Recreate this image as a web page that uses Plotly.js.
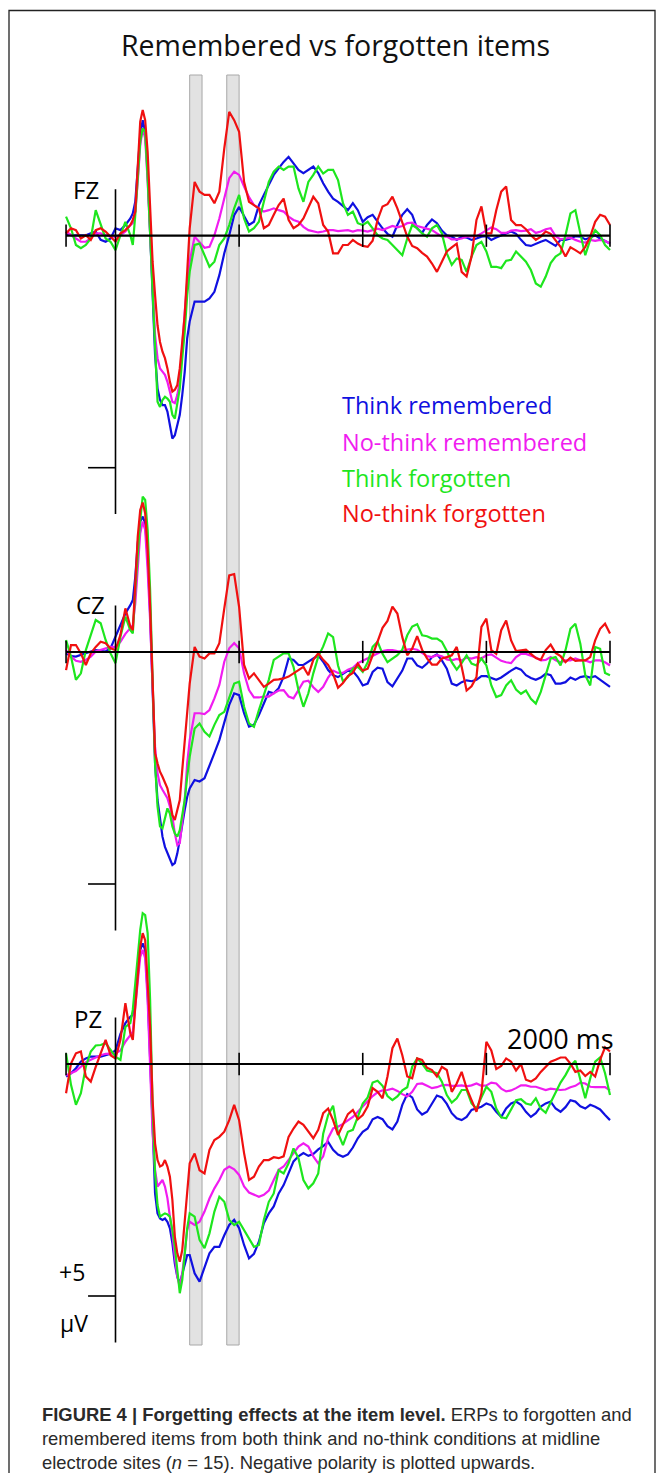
<!DOCTYPE html>
<html>
<head>
<meta charset="utf-8">
<script src="https://cdn.plot.ly/plotly-3.0.1.min.js"></script>
<style>html,body{margin:0;padding:0;background:#fff;}#chart{width:657px;height:1473px;}</style>
</head>
<body>
<div id="chart"></div>
<script>
// ---------------- DATA ----------------
const timeMs = [-200,-180,-160,-140,-120,-100,-80,-60,-40,-20,0,20,40,60,
70,80,90,100,110,120,130,140,150,160,170,180,190,200,210,220,230,240,250,260,270,280,290,300,
320,340,360,380,400,420,440,460,480,500,520,540,560,580,600,620,640,660,680,700,720,740,760,780,800,820,840,860,
880,900,920,940,960,980,1000,1020,1040,1060,1080,1100,1120,1140,1160,1180,1200,1220,1240,1260,1280,1300,1320,1340,1360,1380,1400,1420,1440,1460,1480,1500,1520,1540,1560,1580,1600,1620,1640,1660,1680,1700,1720,1740,1760,1780,1800,1820,1840,1860,1880,1900,1920,1940,1960,1980,2000];

const seriesNames = ["Think remembered","No-think remembered","Think forgotten","No-think forgotten"];
const electrodes = ["FZ","CZ","PZ"];

// FZ (µV)
const fzThinkRemembered = [-0.05,-0.01,-0.01,-0.01,-0.01,-0.05,-0.09,0.09,0.13,0.06,-0.16,-0.12,-0.23,-0.37,
-0.48,-0.73,-1.45,-2.17,-2.49,-2.24,-1.38,-0.16,1.42,2.57,3.29,3.54,3.65,3.65,3.79,4.08,4.37,4.30,4.08,3.86,3.43,2.93,2.21,1.85,
1.42,1.42,1.42,1.35,1.21,0.85,0.38,-0.01,-0.44,-0.62,-0.41,-0.23,-0.30,-0.66,-0.88,-1.09,-1.31,-1.45,-1.59,-1.70,-1.56,-1.42,-1.35,-1.42,-1.49,-1.35,-1.13,-0.95,
-0.80,-0.73,-0.63,-0.55,-0.70,-0.55,-0.30,-0.40,-0.45,-0.30,-0.16,-0.04,0.02,-0.23,-0.45,-0.57,-0.45,-0.16,-0.06,-0.23,-0.35,-0.27,-0.11,-0.01,0.02,0.09,0.02,0.04,0.09,0.06,0.02,0.01,0.09,0.04,-0.01,-0.05,-0.09,-0.04,0.09,0.20,0.22,0.17,0.13,0.09,0.15,0.22,0.09,0.09,0.06,0.01,0.02,0.08,0.04,-0.01,0.06,0.11,0.17];
const fzNoThinkRemembered = [-0.09,-0.01,0.06,0.13,0.13,0.06,-0.05,-0.05,-0.01,0.02,0.02,-0.01,-0.09,-0.23,
-0.27,-0.52,-1.17,-1.95,-2.31,-2.10,-1.17,-0.01,1.28,2.14,2.64,2.86,2.93,3.00,3.15,3.36,3.58,3.61,3.43,3.15,2.30,1.64,0.99,0.56,
0.02,0.13,0.26,0.24,-0.01,-0.37,-0.80,-1.24,-1.38,-1.31,-1.06,-0.83,-0.66,-0.59,-0.52,-0.55,-0.59,-0.55,-0.52,-0.41,-0.34,-0.30,-0.19,-0.12,-0.09,-0.07,-0.09,-0.12,
-0.12,-0.10,-0.11,-0.12,-0.09,-0.12,-0.11,-0.09,-0.12,-0.15,-0.12,-0.16,-0.21,-0.18,-0.21,-0.27,-0.28,-0.21,-0.18,-0.15,-0.12,-0.05,0.02,0.02,0.08,0.08,0.06,0.02,0.02,0.01,-0.05,-0.12,-0.18,-0.14,-0.06,-0.06,-0.11,-0.12,-0.10,-0.11,-0.14,-0.06,-0.09,-0.14,-0.16,0.01,0.08,0.06,0.04,0.09,0.13,0.15,0.09,0.11,0.09,0.11,0.17];
const fzThinkForgotten = [-0.41,-0.16,0.20,0.27,0.20,0.06,-0.55,-0.23,0.06,0.13,0.31,-0.01,-0.30,-0.01,
0.20,-0.45,-1.31,-2.03,-2.31,-2.24,-1.24,-0.01,1.42,2.72,3.58,3.69,3.54,3.47,3.51,3.58,3.86,3.94,3.65,3.29,2.64,2.07,1.28,0.78,
0.20,0.17,0.42,0.67,0.56,0.20,0.06,-0.23,-0.59,-0.88,-0.37,-0.09,-0.16,-0.30,-0.73,-1.16,-1.38,-1.49,-1.42,-1.49,-1.49,-1.02,-0.73,-1.16,-1.31,-1.49,-1.34,-1.42,
-1.42,-1.20,-0.70,-0.45,-0.52,-0.27,-0.23,-0.30,-0.16,-0.01,0.06,0.09,0.20,0.31,0.42,0.06,-0.23,-0.16,-0.05,0.02,-0.16,-0.23,-0.05,0.38,0.63,0.49,0.52,0.78,0.45,0.20,0.13,0.34,0.67,0.67,0.70,0.54,0.52,0.34,0.45,0.56,0.74,1.03,1.10,0.88,0.59,0.45,0.38,-0.01,-0.48,-0.55,-0.05,0.42,0.09,-0.12,-0.01,0.20,0.31];
const fzNoThinkForgotten = [-0.05,-0.16,-0.12,0.06,-0.01,0.09,-0.12,-0.16,-0.09,0.02,0.13,-0.05,-0.12,-0.23,
-0.34,-0.52,-1.60,-2.46,-2.71,-2.49,-1.81,-0.66,0.56,1.28,1.93,2.29,2.50,2.64,2.86,3.15,3.36,3.32,3.22,2.86,2.29,1.71,0.78,-0.16,
-1.16,-0.95,-0.88,-0.88,-0.70,-0.95,-1.88,-2.67,-2.49,-2.24,-1.16,-0.73,-0.66,-0.59,-0.16,-0.23,-0.45,-0.66,-0.80,-0.34,-0.16,-0.23,-0.37,-0.62,-0.84,-0.70,-0.23,-0.09,
0.38,0.38,0.20,0.20,0.09,0.17,0.22,0.24,0.11,-0.34,-0.63,-0.68,-0.84,-0.59,-0.30,0.02,0.22,0.27,0.37,0.45,0.60,0.78,0.56,0.34,0.25,0.17,0.78,0.88,0.45,-0.34,-0.63,-0.05,-0.05,-0.55,-0.95,-1.06,-0.34,-0.23,-0.23,-0.14,-0.01,0.09,0.02,-0.09,-0.04,0.09,0.24,0.45,0.25,0.31,0.38,0.24,0.02,-0.30,-0.45,-0.41,-0.23];

// CZ (µV)
const czThinkRemembered = [0.03,0.09,0.10,0.06,0.03,-0.01,-0.04,-0.03,-0.01,-0.08,-0.33,-0.58,-0.83,-1.01,
-1.12,-1.62,-2.34,-2.81,-2.92,-2.77,-2.05,-0.83,0.75,2.40,3.19,3.55,3.98,4.20,4.34,4.48,4.59,4.55,4.34,4.05,3.69,3.40,3.12,2.94,
2.76,2.79,2.72,2.47,2.18,1.90,1.50,1.14,0.89,0.93,1.32,1.61,1.57,1.36,1.11,0.86,0.89,0.78,0.53,0.14,0.17,0.28,0.28,0.21,0.14,0.07,0.21,0.39,
0.50,0.54,0.47,0.40,0.41,0.54,0.72,0.68,0.43,0.34,0.36,0.65,0.74,0.57,0.40,0.14,0.14,0.29,0.34,0.25,0.11,0.05,0.18,0.36,0.68,0.72,0.65,0.61,0.63,0.60,0.52,0.52,0.56,0.60,0.55,0.47,0.40,0.34,0.38,0.50,0.56,0.60,0.55,0.47,0.50,0.68,0.68,0.65,0.55,0.60,0.54,0.52,0.55,0.52,0.60,0.68,0.75];
const czNoThinkRemembered = [-0.04,0.10,0.19,0.21,0.17,0.10,-0.01,-0.04,-0.08,-0.11,-0.11,-0.22,-0.39,-0.51,
-0.58,-1.05,-1.77,-2.56,-2.81,-2.63,-1.77,-0.69,0.75,2.04,2.61,2.87,2.97,3.05,3.15,3.33,3.55,3.91,4.16,4.12,3.69,3.19,2.40,1.90,
1.32,1.32,1.34,1.25,1.00,0.71,0.21,-0.08,-0.19,-0.08,0.46,0.82,0.98,0.98,0.96,0.96,0.89,0.83,0.82,0.96,1.00,0.83,0.64,0.62,0.76,0.86,0.75,0.55,
0.40,0.45,0.45,0.38,0.34,0.24,0.19,0.14,0.09,0.04,-0.02,-0.04,-0.04,-0.02,-0.01,-0.05,-0.07,-0.05,0.02,0.09,0.11,0.07,0.09,0.16,0.18,0.15,0.18,0.12,0.14,0.11,0.14,0.07,0.05,0.13,0.19,0.22,0.24,0.11,0.04,0.04,0.08,0.12,0.18,0.17,0.11,0.18,0.22,0.18,0.18,0.14,0.18,0.18,0.22,0.18,0.18,0.22,0.29];
const czThinkForgotten = [-0.26,0.10,0.60,0.46,-0.04,-0.37,-0.69,-0.62,-0.26,0.03,0.24,-0.33,-0.76,-0.47,
-0.40,-1.34,-2.13,-2.84,-3.35,-3.28,-2.63,-1.34,0.60,2.40,3.33,3.76,3.80,3.55,3.37,3.48,3.76,3.91,3.98,3.84,3.55,3.19,2.69,2.26,
1.65,1.54,1.72,1.82,1.57,1.36,1.29,1.00,0.68,0.64,1.18,1.54,1.61,1.25,0.93,0.60,0.17,0.10,0.03,0.03,0.32,0.82,1.18,0.89,0.46,0.10,-0.12,-0.40,
-0.32,0.29,0.63,0.54,0.36,0.32,0.43,0.22,-0.11,-0.22,0.04,0.22,0.14,0.07,-0.05,-0.36,-0.55,-0.60,-0.36,-0.34,-0.29,-0.29,-0.22,-0.02,0.22,0.38,0.24,0.07,0.25,0.29,0.14,0.29,0.72,0.97,0.93,0.72,0.61,0.81,0.90,0.83,1.01,1.11,0.86,0.50,0.14,0.11,0.29,-0.04,-0.50,-0.61,-0.18,0.50,0.72,-0.11,-0.07,0.45,0.50];
const czNoThinkForgotten = [0.39,-0.15,-0.15,0.03,0.28,0.03,-0.11,-0.22,-0.19,-0.08,-0.04,-0.37,-0.94,-0.55,
-0.47,-1.55,-2.49,-3.06,-3.22,-2.99,-2.20,-0.98,0.75,2.18,2.40,2.58,2.69,2.80,2.94,3.19,3.51,3.62,3.40,3.19,2.54,1.90,1.18,0.68,
-0.11,0.10,0.14,0.03,0.03,-0.19,-0.94,-1.65,-1.68,-0.97,0.28,0.57,0.46,0.60,0.75,0.68,0.60,0.59,0.57,0.53,0.45,0.39,0.32,0.50,0.17,0.03,0.17,0.28,
0.47,0.77,0.67,0.52,0.45,0.25,0.40,0.36,0.07,-0.22,-0.52,-0.67,-0.98,-0.83,-0.32,0.07,-0.07,-0.34,-0.05,0.14,0.27,0.27,0.14,0.11,0.07,-0.11,0.32,0.83,0.74,0.54,-0.54,-0.72,-0.04,0.04,-0.47,-0.68,-0.25,-0.02,-0.04,-0.05,0.04,0.13,0.17,-0.04,-0.16,0.02,0.09,0.22,0.12,0.19,0.18,0.18,0.11,-0.25,-0.50,-0.61,-0.40];

// PZ (µV)
const pzThinkRemembered = [0.27,0.20,0.09,-0.05,-0.12,-0.16,-0.16,-0.16,-0.19,-0.22,-0.29,-0.65,-0.88,-1.02,
-1.06,-1.38,-1.99,-2.46,-2.60,-2.46,-1.52,-0.30,1.28,2.79,3.22,3.33,3.36,3.33,3.40,3.54,3.86,4.30,4.59,4.73,4.51,4.30,4.12,4.12,
4.51,4.69,4.37,4.08,3.94,3.94,3.69,3.47,3.36,3.54,3.90,4.19,4.09,3.83,3.43,3.22,3.07,2.79,2.61,2.36,2.10,1.99,1.92,1.98,1.94,1.84,1.77,1.68,
1.85,1.95,2.00,1.95,1.80,1.60,1.46,1.39,1.19,1.14,1.19,1.34,1.41,1.24,0.88,0.65,0.72,0.98,1.09,1.03,0.85,0.68,0.72,0.86,1.06,1.17,1.21,1.14,0.99,0.96,0.92,0.85,0.89,1.03,1.14,0.96,0.85,0.81,0.88,1.03,1.14,1.06,0.92,0.85,0.81,0.96,1.03,0.93,0.78,0.81,0.91,0.96,0.88,0.92,0.98,1.10,1.21];
const pzNoThinkRemembered = [0.24,0.20,0.15,0.06,-0.04,-0.09,-0.14,-0.19,-0.22,-0.23,-0.23,-0.29,-0.48,-0.62,
-0.70,-1.24,-1.85,-2.31,-2.46,-2.28,-1.38,-0.09,1.49,2.28,2.64,2.57,2.50,2.64,2.89,3.29,3.65,4.15,4.58,4.80,4.51,4.08,3.58,3.40,
3.47,3.40,3.18,2.90,2.68,2.50,2.28,2.21,2.27,2.39,2.64,2.77,2.82,2.86,2.82,2.73,2.50,2.28,2.21,2.07,1.92,1.78,1.71,1.78,1.99,2.14,1.99,1.60,
1.39,1.35,1.29,1.21,1.14,1.03,0.91,0.79,0.69,0.61,0.57,0.56,0.53,0.58,0.65,0.70,0.60,0.43,0.42,0.47,0.52,0.50,0.46,0.45,0.47,0.47,0.46,0.48,0.46,0.42,0.47,0.46,0.40,0.42,0.53,0.59,0.57,0.52,0.46,0.46,0.49,0.49,0.52,0.56,0.53,0.55,0.56,0.55,0.50,0.47,0.40,0.42,0.49,0.50,0.50,0.50,0.57];
const pzThinkForgotten = [-0.23,0.45,0.88,0.63,0.06,-0.27,-0.40,-0.41,-0.45,-0.30,-0.16,-0.09,-0.80,-0.88,
-1.17,-1.74,-2.39,-2.89,-3.25,-3.21,-2.82,-1.38,0.92,2.36,3.04,3.29,3.25,3.22,3.24,3.29,3.58,3.94,4.44,4.94,4.65,4.08,3.54,3.22,
3.29,3.79,3.97,3.65,3.18,2.86,2.97,3.36,3.47,3.40,3.58,3.79,3.94,3.90,3.36,2.97,2.79,2.29,2.36,2.14,1.82,2.03,2.50,2.68,2.57,2.36,1.50,1.10,
0.90,1.49,1.75,1.46,1.42,1.14,0.85,0.72,0.40,0.36,0.47,0.69,0.78,0.70,0.57,0.50,0.06,-0.12,-0.01,0.14,0.17,0.20,0.38,0.67,0.83,0.74,0.56,0.56,0.85,0.96,0.72,0.49,0.60,0.96,1.15,1.17,0.98,0.78,0.76,0.85,0.88,0.74,0.96,1.05,0.83,0.62,0.40,0.24,0.04,-0.07,0.31,0.74,0.31,-0.05,-0.14,0.20,0.67];
const pzNoThinkForgotten = [0.63,-0.01,-0.23,-0.27,0.27,0.38,0.06,-0.23,-0.52,-0.19,-0.12,-0.52,-1.31,-0.66,
-0.52,-1.23,-1.88,-2.53,-2.82,-2.67,-1.74,-0.80,0.78,1.71,2.07,2.21,2.18,2.07,2.21,2.43,2.93,3.72,4.08,4.26,4.01,3.36,2.64,2.14,
1.93,2.29,2.36,1.85,1.64,1.57,1.46,1.21,0.88,1.21,1.92,2.50,2.43,2.21,2.07,2.07,2.01,2.03,1.99,1.57,1.39,1.24,1.31,1.46,1.60,1.42,1.06,0.96,
1.21,1.53,1.29,1.08,0.99,1.19,1.10,0.91,0.52,0.60,0.74,0.27,-0.34,-0.55,-0.19,0.27,0.31,-0.12,-0.09,0.08,0.13,0.27,0.06,0.13,0.60,0.42,0.17,0.52,0.78,1.03,0.63,-0.48,-0.29,0.11,0.04,-0.12,-0.05,0.14,0.00,0.34,0.38,0.31,0.17,0.06,-0.05,-0.09,-0.14,-0.14,-0.01,0.17,0.14,0.26,0.17,0.27,-0.09,-0.36,-0.27];

const analysisWindowsMs = [[300,350],[450,500]];
const baselineTicksMs = [-200,500,1000,1500,2000];

// ---------------- LAYOUT HELPERS ----------------
const W = 657, H = 1473;
const PXPERMS = 0.24725, X0PX = 115.5, PXPERUV = 46.4;
const baselinePx = [235.7, 652, 1064];
const fx = p => p / W;
const fy = p => 1 - p / H;
const colors = ["#1010e0", "#f01cf0", "#1ee61e", "#f01010"];

const panelData = [
  [fzThinkRemembered, fzNoThinkRemembered, fzThinkForgotten, fzNoThinkForgotten],
  [czThinkRemembered, czNoThinkRemembered, czThinkForgotten, czNoThinkForgotten],
  [pzThinkRemembered, pzNoThinkRemembered, pzThinkForgotten, pzNoThinkForgotten]
];
const yNames = ["y", "y2", "y3"];

const traces = [];
panelData.forEach((set, p) => {
  set.forEach((vals, s) => {
    traces.push({
      type: "scatter", mode: "lines", x: timeMs, y: vals,
      yaxis: yNames[p], name: electrodes[p] + " " + seriesNames[s],
      line: {color: colors[s], width: 2.2}, showlegend: false, hoverinfo: "skip"
    });
  });
});

const layout = {
  width: W, height: H,
  margin: {l: 0, r: 0, t: 0, b: 0},
  paper_bgcolor: "#ffffff", plot_bgcolor: "#ffffff",
  showlegend: false,
  font: {family: "Open Sans, sans-serif", color: "#000"},
  title: {text: "Remembered vs forgotten items", x: fx(335.5), xanchor: "center",
          y: fy(46), yanchor: "middle", font: {size: 28.5, color: "#111", family: "Open Sans, sans-serif"}},
  xaxis: {range: [(0 - X0PX) / PXPERMS, (W - X0PX) / PXPERMS], visible: false, fixedrange: true},
  shapes: [], annotations: []
};
baselinePx.forEach((b, i) => {
  const key = i === 0 ? "yaxis" : "yaxis" + (i + 1);
  layout[key] = {
    range: [(H - b) / PXPERUV, (0 - b) / PXPERUV], visible: false, fixedrange: true,
    domain: [0, 1]
  };
  if (i > 0) layout[key].overlaying = "y";
});

// analysis windows (grey bars)
analysisWindowsMs.forEach(w => {
  layout.shapes.push({type: "rect", xref: "x", yref: "paper", x0: w[0], x1: w[1],
    y0: fy(1345), y1: fy(75), fillcolor: "#e2e2e2", line: {color: "#a8a8a8", width: 1}, layer: "below"});
});
// axes per panel
yNames.forEach((yr, i) => {
  layout.shapes.push({type: "line", xref: "x", yref: yr, x0: 0, x1: 0, y0: -1, y1: 6,
    line: {color: "#000", width: 1.6}, layer: "above"});
  layout.shapes.push({type: "line", xref: "x", yref: yr, x0: -111, x1: 0, y0: 5, y1: 5,
    line: {color: "#000", width: 1.6}, layer: "above"});
  layout.shapes.push({type: "line", xref: "x", yref: yr, x0: -200, x1: 2000, y0: 0, y1: 0,
    line: {color: "#000", width: 2.2}, layer: "above"});
  baselineTicksMs.forEach(t => {
    layout.shapes.push({type: "line", xref: "x", yref: yr, x0: t, x1: t, y0: -0.24, y1: 0.24,
      line: {color: "#000", width: 1.6}, layer: "above"});
  });
});
// frame
layout.shapes.push({type: "rect", xref: "paper", yref: "paper", x0: fx(9), x1: fx(655),
  y0: -0.02, y1: fy(10.5), line: {color: "#222", width: 1.3}, fillcolor: "rgba(0,0,0,0)", layer: "above"});

function ann(text, xpx, ypx, size, color, xanchor, extra) {
  layout.annotations.push(Object.assign({text: text, x: fx(xpx), y: fy(ypx), xref: "paper", yref: "paper",
    showarrow: false, xanchor: xanchor || "center", yanchor: "middle",
    font: {size: size, color: color || "#000", family: "Open Sans, sans-serif"}}, extra || {}));
}
ann(electrodes[0], 85.5, 189.5, 24);
ann(electrodes[1], 90, 604, 24);
ann(electrodes[2], 88, 1018.5, 24);
ann("+5", 72, 1272, 23);
ann("µV", 74, 1323, 23);
ann("2000 ms", 560.5, 1038, 27);
const legendY = [405, 442, 478, 513];
seriesNames.forEach((n, i) => ann(n, 340, legendY[i], 23.5, colors[i], "left"));

const captionLines = [
  "<b>FIGURE 4 | Forgetting effects at the item level.</b> ERPs to forgotten and",
  "remembered items from both think and no-think conditions at midline",
  "electrode sites (<i>n</i> = 15). Negative polarity is plotted upwards."
];
const captionY = [1414, 1438, 1462];
captionLines.forEach((t, i) => ann(t, 40, captionY[i], 18.4, "#2a2a2a", "left",
  {align: "left", font: {size: 18.4, color: "#2a2a2a", family: "Liberation Sans, Arial, sans-serif"}}));

Plotly.newPlot("chart", traces, layout, {staticPlot: true, displayModeBar: false});
</script>
</body>
</html>
